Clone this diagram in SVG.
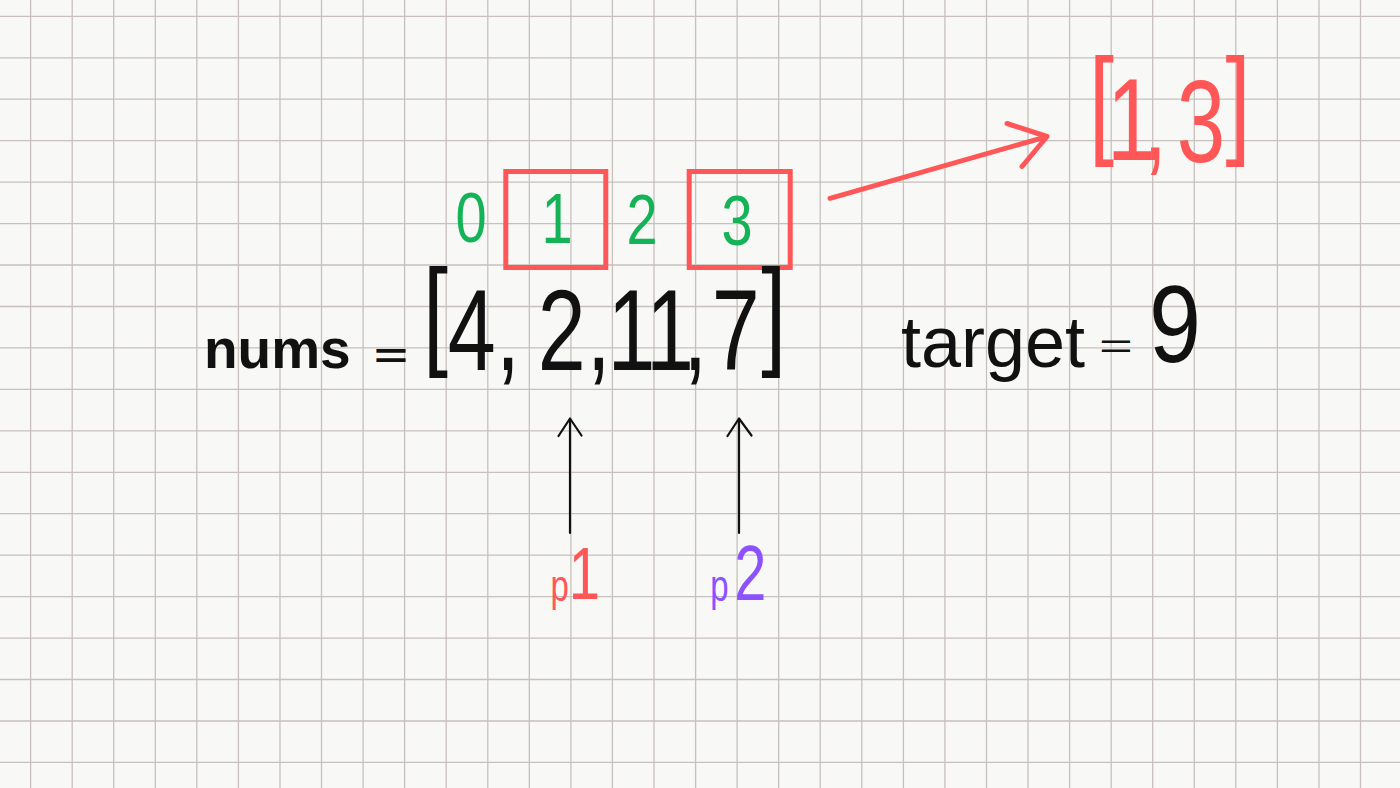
<svg xmlns="http://www.w3.org/2000/svg" width="1400" height="788" viewBox="0 0 1400 788">
<style>
text{font-family:"Liberation Sans",Arial,sans-serif}
.blk{fill:#111}
.grn{fill:#14b357;font-size:70px;text-anchor:middle}
.red{fill:#ff5757}
.pur{fill:#8c52ff}
.box{fill:none;stroke:#ff5757;stroke-width:5}
.garrow{fill:none;stroke:#111;stroke-width:2.2;stroke-linecap:round;stroke-linejoin:round}
.rarrow{fill:none;stroke:#ff5757;stroke-width:5;stroke-linecap:round;stroke-linejoin:round}
.grid{fill:none;stroke:#c8c0bc;stroke-width:1.3}
</style>
<rect width="1400" height="788" fill="#f8f8f7"/>
<g id="grid">
<path class="grid" d="M30.6 0V788M72.2 0V788M113.7 0V788M155.3 0V788M196.8 0V788M238.4 0V788M279.960 0V788M321.5 0V788M363.1 0V788M404.6 0V788M446.2 0V788M487.8 0V788M529.3 0V788M570.9 0V788M612.4 0V788M654.0 0V788M695.6 0V788M737.1 0V788M778.7 0V788M820.2 0V788M861.8 0V788M903.4 0V788M944.9 0V788M986.5 0V788M1028.0 0V788M1069.6 0V788M1111.2 0V788M1152.7 0V788M1194.3 0V788M1235.8 0V788M1277.4 0V788M1319.0 0V788M1360.5 0V788M0 16.3H1400M0 57.8H1400M0 99.2H1400M0 140.7H1400M0 182.1H1400M0 223.6H1400M0 265.0H1400M0 306.5H1400M0 347.9H1400M0 389.4H1400M0 430.8H1400M0 472.3H1400M0 513.7H1400M0 555.2H1400M0 596.6H1400M0 638.1H1400M0 679.5H1400M0 721.0H1400M0 762.4H1400"/>
</g>
<g id="connectors">
<g id="arrow-result">
<path class="rarrow" d="M830 198.3L1046 136.8"/>
<path class="rarrow" d="M1007 123.5L1047 136.5L1022 166.5"/>
</g>
<g id="arrow-p1">
<path class="garrow" d="M570 533V419"/>
<path class="garrow" d="M558.5 436L570 418.5L581.5 435.5"/>
</g>
<g id="arrow-p2">
<path class="garrow" d="M739 533V419"/>
<path class="garrow" d="M727.5 436L739 418.5L751.5 435.5"/>
</g>
</g>
<g id="indices">
<text class="grn" transform="translate(471 242) scale(0.8 1)">0</text>
<text class="grn" transform="translate(557 243) scale(0.8 1)">1</text>
<text class="grn" transform="translate(642 244) scale(0.8 1)">2</text>
<text class="grn" transform="translate(737 245) scale(0.8 1)">3</text>
</g>
<g id="box-1"><rect class="box" x="505.8" y="171.5" width="100" height="96"/></g>
<g id="box-3"><rect class="box" x="689.2" y="171.5" width="101" height="96"/></g>
<g id="nums-label">
<text class="blk" x="204" y="368" font-size="55" font-weight="bold">nums</text>
<text class="blk" transform="translate(391 367.6) scale(1 0.62)" font-size="58" font-weight="bold" text-anchor="middle">=</text>
</g>
<g id="array">
<text class="blk" transform="scale(0.75 1)" font-size="115"><tspan x="564" y="353" font-size="120">[</tspan><tspan x="597" y="370">4</tspan><tspan x="661.2" y="370">,</tspan> <tspan x="717" y="370">2</tspan><tspan x="782.5" y="370">,</tspan> <tspan x="810" y="370" letter-spacing="-4">11</tspan><tspan x="911" y="370">,</tspan> <tspan x="949" y="370">7</tspan><tspan x="1015" y="353" font-size="120">]</tspan></text>
</g>
<g id="target">
<text class="blk" x="901" y="367" font-size="72">target</text>
<text class="blk" transform="translate(1116 358.3) scale(1 0.6)" font-size="58" text-anchor="middle">=</text>
<text class="blk" transform="translate(1175 362) scale(0.85 1)" font-size="110" text-anchor="middle">9</text>
</g>
<g id="result">
<text class="red" transform="scale(0.75 1)" font-size="116"><tspan x="1452" y="142" font-size="120">[</tspan><tspan x="1476" y="160">1</tspan><tspan x="1524" y="160">,</tspan> <tspan x="1569" y="162">3</tspan><tspan x="1634" y="142" font-size="120">]</tspan></text>
</g>
<g id="p1">
<text class="red" transform="scale(0.75 1)"><tspan x="734" y="601" font-size="44">p</tspan><tspan x="758.5" y="599" font-size="75">1</tspan></text>
</g>
<g id="p2">
<text class="pur" transform="scale(0.75 1)"><tspan x="947" y="601" font-size="44">p</tspan><tspan x="979" y="600" font-size="77">2</tspan></text>
</g>
</svg>
